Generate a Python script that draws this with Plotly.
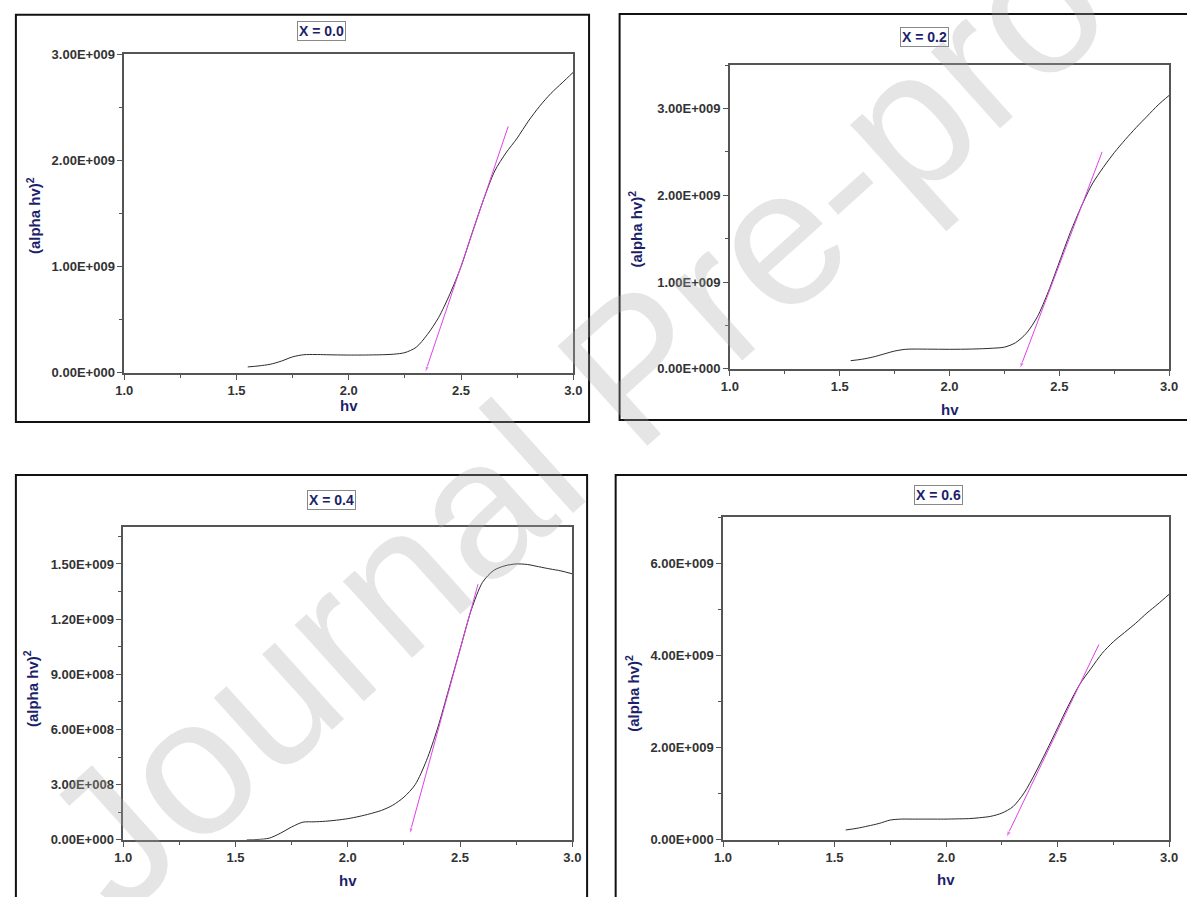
import plotly.graph_objects as go

W, H = 1187, 897

# ---------------- data ----------------
hv = [1.55, 1.60, 1.65, 1.70, 1.75, 1.80, 1.85, 1.90, 1.95, 2.00, 2.05, 2.10, 2.15, 2.20,
      2.25, 2.30, 2.35, 2.40, 2.45, 2.50, 2.55, 2.60, 2.65, 2.70, 2.75, 2.80, 2.85, 2.90,
      2.95, 3.00]

# (alpha hv)^2 in units of 1e9
y_x00 = [0.055, 0.065, 0.080, 0.110, 0.150, 0.170, 0.172, 0.170, 0.168, 0.167, 0.167, 0.168,
         0.170, 0.175, 0.190, 0.240, 0.360, 0.520, 0.740, 1.000, 1.320, 1.630, 1.900, 2.070,
         2.210, 2.370, 2.510, 2.630, 2.730, 2.830]
y_x02 = [0.094, 0.110, 0.135, 0.170, 0.205, 0.225, 0.228, 0.227, 0.226, 0.225, 0.226, 0.228,
         0.232, 0.238, 0.250, 0.300, 0.410, 0.600, 0.890, 1.230, 1.570, 1.870, 2.130, 2.320,
         2.490, 2.640, 2.780, 2.910, 3.040, 3.150]
y_x04 = [0.000, 0.002, 0.009, 0.036, 0.070, 0.096, 0.098, 0.101, 0.107, 0.115, 0.127, 0.142,
         0.160, 0.188, 0.232, 0.300, 0.430, 0.607, 0.820, 1.036, 1.250, 1.400, 1.465, 1.490,
         1.500, 1.497, 1.485, 1.473, 1.462, 1.446]
y_x06 = [0.214, 0.250, 0.300, 0.356, 0.430, 0.450, 0.450, 0.450, 0.450, 0.450, 0.455, 0.460,
         0.480, 0.510, 0.580, 0.720, 1.020, 1.450, 1.930, 2.430, 2.930, 3.380, 3.720, 4.050,
         4.300, 4.500, 4.700, 4.920, 5.120, 5.330]

# tangent (linear extrapolation) lines: [top, bottom(arrow)]
tan_x00 = [2.71, 2.34];  tan_y00 = [2.32, 0.00]
tan_x02 = [2.695, 2.32]; tan_y02 = [2.50, 0.00]
tan_x04 = [2.58, 2.275]; tan_y04 = [1.39, 0.03]
tan_x06 = [2.685, 2.27]; tan_y06 = [4.24, 0.05]

titles = ["X = 0.0", "X = 0.2", "X = 0.4", "X = 0.6"]

x_ticks = [1.0, 1.5, 2.0, 2.5, 3.0]
x_ticktext = ["1.0", "1.5", "2.0", "2.5", "3.0"]

yt_00 = [0, 1, 2, 3];          ytt_00 = ["0.00E+000", "1.00E+009", "2.00E+009", "3.00E+009"]
yt_02 = [0, 1, 2, 3];          ytt_02 = ["0.00E+000", "1.00E+009", "2.00E+009", "3.00E+009"]
yt_04 = [0, 0.3, 0.6, 0.9, 1.2, 1.5]
ytt_04 = ["0.00E+000", "3.00E+008", "6.00E+008", "9.00E+008", "1.20E+009", "1.50E+009"]
yt_06 = [0, 2, 4, 6];          ytt_06 = ["0.00E+000", "2.00E+009", "4.00E+009", "6.00E+009"]

y_max = [3.0, 3.5, 1.7, 7.0]
y_minor = [0.5, 0.5, 0.15, 1.0]

# ---------------- layout geometry (pixels) ----------------
areas = [(117, 573, 48, 372), (732, 1178, 59, 368), (116, 572, 529, 847), (725, 1178, 519, 847)]
frames = [(7, 589, 8, 422), (620, 1200, 7, 420), (7, 587, 476, 910), (616, 1200, 476, 910)]
title_pos = [(317, 24), (930, 31), (327, 501), (944, 496)]
xlab_pos = [(345, 405), (955, 409), (344, 888), (951, 887)]
ylab_pos = [(25, 212), (636, 226), (22, 693), (633, 698)]

NAVY = "#1c1f6b"
TICKC = "#333333"
FONT = "Liberation Sans"

def px(x):
    return x / W

def py(y):
    return 1 - y / H

fig = go.Figure()

series = [y_x00, y_x02, y_x04, y_x06]
tans = [(tan_x00, tan_y00), (tan_x02, tan_y02), (tan_x04, tan_y04), (tan_x06, tan_y06)]
yticks = [(yt_00, ytt_00), (yt_02, ytt_02), (yt_04, ytt_04), (yt_06, ytt_06)]

for i in range(4):
    xa = "x" if i == 0 else f"x{i+1}"
    ya = "y" if i == 0 else f"y{i+1}"
    ys = [v * 1e9 for v in series[i]]
    fig.add_trace(go.Scatter(x=hv, y=ys, mode="lines", xaxis=xa, yaxis=ya,
                             line=dict(color="#2a2a2a", width=1, shape="spline", smoothing=0.8),
                             hoverinfo="skip"))
    tx, ty = tans[i]
    fig.add_trace(go.Scatter(x=tx, y=[v * 1e9 for v in ty], mode="lines+markers",
                             xaxis=xa, yaxis=ya,
                             line=dict(color="#e040e8", width=1),
                             marker=dict(symbol="arrow", angleref="previous",
                                         size=[0, 7], color="#e040e8"),
                             hoverinfo="skip"))
    l, r, t, b = areas[i]
    axis_common = dict(showline=True, linecolor="#555555", linewidth=1.5, mirror=True,
                       showgrid=False, zeroline=False, ticks="outside", ticklen=5,
                       tickwidth=1.2, tickcolor="#555555",
                       tickfont=dict(family=FONT, size=13, color=TICKC, weight="bold"))
    xkey = "xaxis" if i == 0 else f"xaxis{i+1}"
    ykey = "yaxis" if i == 0 else f"yaxis{i+1}"
    fig.layout[xkey] = dict(domain=[px(l), px(r)], anchor=ya, range=[1.0, 3.0],
                            tickmode="array", tickvals=x_ticks, ticktext=x_ticktext,
                            minor=dict(ticks="outside", ticklen=3, dtick=0.25,
                                       tickcolor="#555555"),
                            **axis_common)
    fig.layout[ykey] = dict(domain=[py(b), py(t)], anchor=xa,
                            range=[0, y_max[i] * 1e9],
                            tickmode="array", tickvals=[v * 1e9 for v in yticks[i][0]],
                            ticktext=yticks[i][1],
                            minor=dict(ticks="outside", ticklen=3, dtick=y_minor[i] * 1e9,
                                       tick0=0, tickcolor="#555555"),
                            **axis_common)

shapes = []
for (l, r, t, b) in frames:
    shapes.append(dict(type="rect", xref="paper", yref="paper",
                       x0=px(l), x1=px(r), y0=py(b), y1=py(t),
                       line=dict(color="#111111", width=2), layer="above"))

annotations = []
for i in range(4):
    tx, ty = title_pos[i]
    annotations.append(dict(text=titles[i], xref="paper", yref="paper", x=px(tx), y=py(ty),
                            showarrow=False, xanchor="center", yanchor="middle",
                            font=dict(family=FONT, size=14, color=NAVY, weight="bold"),
                            bordercolor="#888888", borderwidth=1, borderpad=1,
                            bgcolor="white"))
    lx, ly = xlab_pos[i]
    annotations.append(dict(text="hv", xref="paper", yref="paper", x=px(lx), y=py(ly),
                            showarrow=False, xanchor="center", yanchor="middle",
                            font=dict(family=FONT, size=15, color=NAVY, weight="bold")))
    yx, yy = ylab_pos[i]
    annotations.append(dict(text="(alpha hv)<sup>2</sup>", xref="paper", yref="paper",
                            x=px(yx), y=py(yy), showarrow=False, textangle=-90,
                            xanchor="center", yanchor="middle",
                            font=dict(family=FONT, size=15, color=NAVY, weight="bold")))

# watermark
annotations.append(dict(text="Journal Pre-proof", xref="paper", yref="paper",
                        x=px(635), y=py(365), showarrow=False, textangle=-42,
                        xanchor="center", yanchor="middle",
                        font=dict(family=FONT, size=195, color="rgba(170,170,170,0.3)")))

fig.update_layout(width=W, height=H, margin=dict(l=0, r=0, t=0, b=0),
                  paper_bgcolor="white", plot_bgcolor="white", showlegend=False,
                  shapes=shapes, annotations=annotations)

fig.write_html("out.html")
